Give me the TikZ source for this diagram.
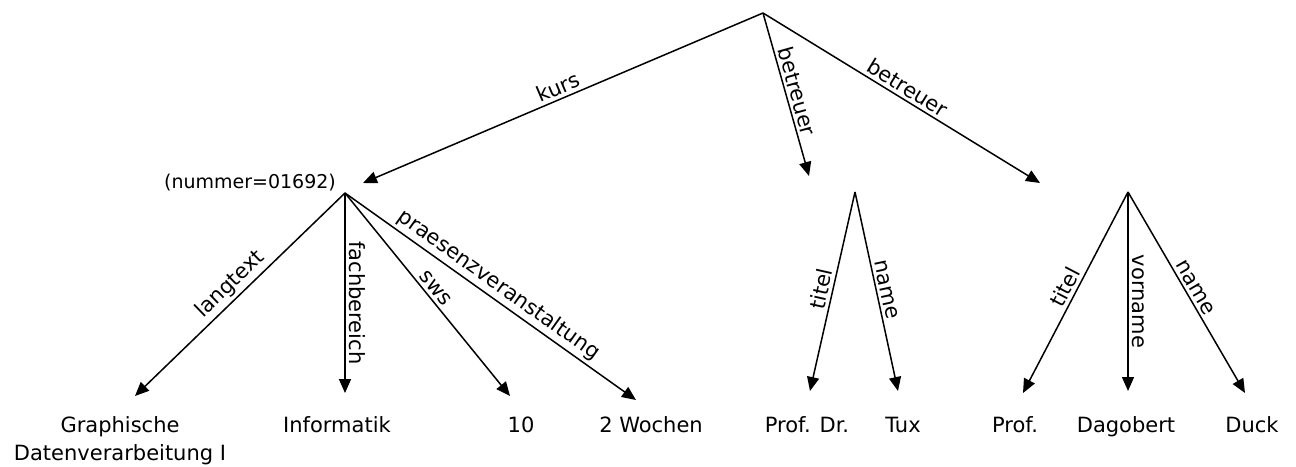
\documentclass[tikz,border=0pt]{standalone}
\usepackage{fontspec}
\setmainfont{DejaVu Sans}
\usetikzlibrary{arrows.meta}
\begin{document}
\begin{tikzpicture}[x=1pt,y=-1pt,
  edge/.style={line width=1.5pt,-{Triangle[length=14pt,width=12pt]}},
  lbl/.style={font=\fontsize{21}{28}\selectfont,inner sep=2pt},
  leaf/.style={font=\fontsize{21}{28}\selectfont,anchor=base,inner sep=0pt,align=center},
  elab/.style={font=\fontsize{21}{25}\selectfont,inner sep=3pt,midway,sloped,above},
  vlab/.style={font=\fontsize{21}{25}\selectfont,inner sep=3pt,rotate=-90,anchor=south}]
\useasboundingbox (0,0) rectangle (1296,466);
% apex points
\coordinate (root) at (763,13);
\coordinate (k) at (345,193);
\coordinate (b1) at (855,192);
\coordinate (b2) at (1128,192);
% arrow ends
\coordinate (kT) at (363,183);
\coordinate (b1T) at (809,176);
\coordinate (b2T) at (1040,183);
\coordinate (k1T) at (135,396);
\coordinate (k2T) at (345,393);
\coordinate (k3T) at (510,396);
\coordinate (k4T) at (636,400);
\coordinate (n1T) at (810,391);
\coordinate (n2T) at (898,391);
\coordinate (m1T) at (1023,393);
\coordinate (m2T) at (1128,391);
\coordinate (m3T) at (1245,393);
% labels
\node[lbl,font=\fontsize{19}{24}\selectfont] (knum) at (250,183) {(nummer=01692)};
\node[leaf] (l1) at (120,460) {Graphische\\Datenverarbeitung I};
\node[leaf] (l2) at (337,432) {Informatik};
\node[leaf] (l3) at (521,432) {10};
\node[leaf] (l4) at (651,432) {2 Wochen};
\node[leaf] (l5) at (807,432) {Prof. Dr.};
\node[leaf] (l6) at (903,432) {Tux};
\node[leaf] (l7) at (1015,432) {Prof.};
\node[leaf] (l8) at (1126,432) {Dagobert};
\node[leaf] (l9) at (1252,432) {Duck};
% connectors
\draw[edge] (root) -- node[elab] {kurs} (kT);
\draw[edge] (root) -- node[elab] {betreuer} (b1T);
\draw[edge] (root) -- node[elab] {betreuer} (b2T);
\draw[edge] (k) -- node[elab] {langtext} (k1T);
\draw[edge] (k) -- node[vlab,pos=0.55] {fachbereich} (k2T);
\draw[edge] (k) -- node[elab] {sws} (k3T);
\draw[edge] (k) -- node[elab] {praesenzveranstaltung} (k4T);
\draw[edge] (b1) -- node[elab] {titel} (n1T);
\draw[edge] (b1) -- node[elab] {name} (n2T);
\draw[edge] (b2) -- node[elab] {titel} (m1T);
\draw[edge] (b2) -- node[vlab,pos=0.55] {vorname} (m2T);
\draw[edge] (b2) -- node[elab] {name} (m3T);
\end{tikzpicture}
\end{document}
